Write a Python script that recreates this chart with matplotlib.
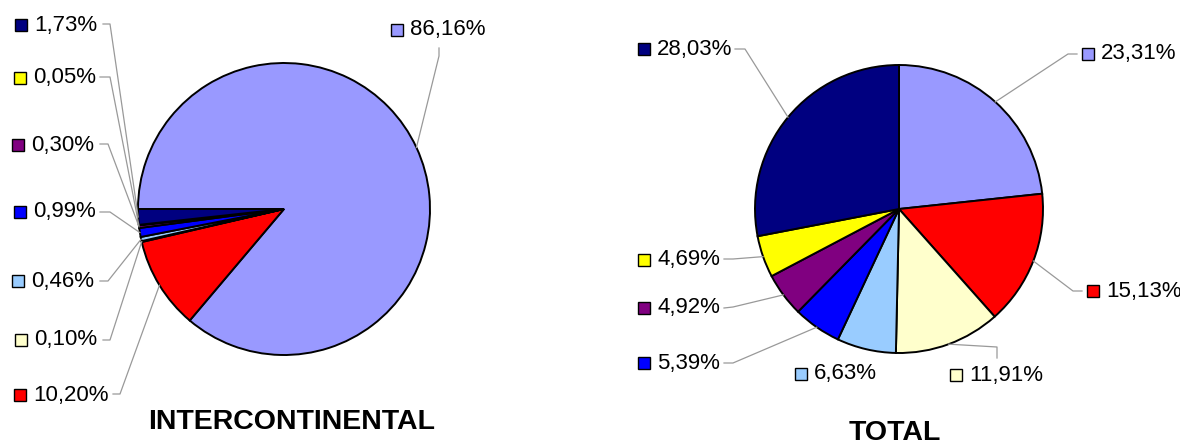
import numpy as np
import matplotlib
matplotlib.use("Agg")
import matplotlib.pyplot as plt

plt.rcParams['font.family'] = ['Liberation Sans', 'DejaVu Sans']

# datos
colores = ["#9999FF", "#FF0000", "#FFFFCC", "#99CCFF", "#0000FF", "#800080", "#FFFF00", "#000080"]
inter = [86.16, 10.20, 0.10, 0.46, 0.99, 0.30, 0.05, 1.73]
total = [23.31, 15.13, 11.91, 6.63, 5.39, 4.92, 4.69, 28.03]
inter_txt = ["86,16%", "10,20%", "0,10%", "0,46%", "0,99%", "0,30%", "0,05%", "1,73%"]
total_txt = ["23,31%", "15,13%", "11,91%", "6,63%", "5,39%", "4,92%", "4,69%", "28,03%"]

W, H = 1180, 446

# posiciones de las etiquetas en pixeles: (cuadro x, y, lado, puntos de la linea guia)
pos_inter = [
    (397, 30, "r", [(439, 48), (439, 56)]),
    (20, 395, "l", [(113, 394), (120, 394)]),
    (21, 340, "l", [(103, 340), (110, 340)]),
    (18, 281, "l", [(100, 281), (108, 281)]),
    (20, 212, "l", [(100, 212), (110, 212)]),
    (18, 145, "l", [(100, 144), (108, 144)]),
    (20, 78, "l", [(100, 77), (110, 77)]),
    (21, 25, "l", [(103, 24), (110, 24)]),
]
pos_total = [
    (1088, 54, "r", [(1077, 54), (1068, 54)]),
    (1093, 291, "r", [(1082, 291), (1073, 291)]),
    (956, 375, "r", [(997, 358), (997, 347)]),
    (801, 374, "r", None),
    (644, 363, "l", [(724, 363), (733, 363)]),
    (644, 308, "l", [(724, 308), (733, 307)]),
    (644, 260, "l", [(724, 259), (733, 259)]),
    (644, 49, "l", [(735, 49), (745, 49)]),
]

fig = plt.figure(figsize=(W / 100, H / 100), dpi=100)
ax = fig.add_axes([0, 0, 1, 1])


def Y(y):
    return H - y


def torta(valores, textos, posiciones, cx, cy, r, inicio):
    ax.pie(valores, colors=colores, startangle=inicio, counterclock=False,
           center=(cx, Y(cy)), radius=r, frame=True,
           wedgeprops=dict(edgecolor="black", linewidth=1.4))
    acum = 0
    for i, (v, t, (sx, sy, lado, guia)) in enumerate(zip(valores, textos, posiciones)):
        ang = np.radians(inicio - (acum + v / 2) * 3.6)
        acum += v
        ex, ey = cx + r * np.cos(ang), Y(cy) + r * np.sin(ang)
        if guia is not None:
            xs = [p[0] for p in guia] + [ex]
            ys = [Y(p[1]) for p in guia] + [ey]
            ax.plot(xs, ys, color="#999999", linewidth=0.9, zorder=1)
        ax.plot(sx, Y(sy), marker="s", markersize=9, markerfacecolor=colores[i],
                markeredgecolor="black", markeredgewidth=1.0, linestyle="none")
        ax.text(sx + 13, Y(sy), t, fontsize=16, va="center", ha="left")


torta(inter, inter_txt, pos_inter, 284, 209, 146, 180)
torta(total, total_txt, pos_total, 899, 209, 144, 90)

ax.set_xlim(0, W)
ax.set_ylim(0, H)
ax.set_aspect("equal")
ax.axis("off")

ax.text(292, Y(422), "INTERCONTINENTAL", fontsize=20.5, fontweight="bold", ha="center", va="center")
ax.text(895, Y(433), "TOTAL", fontsize=20.5, fontweight="bold", ha="center", va="center")

plt.savefig("out.png", dpi=100)
